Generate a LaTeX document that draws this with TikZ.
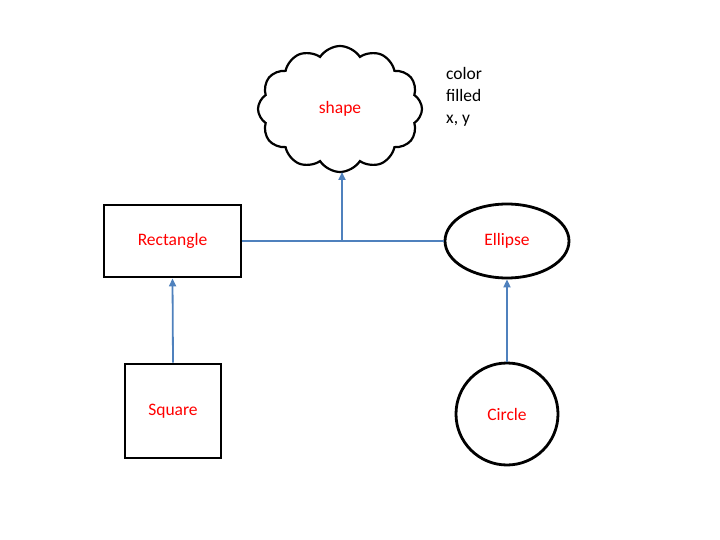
\documentclass[tikz,border=0pt]{standalone}
\usepackage{fontspec}
\setmainfont{Carlito}
\usetikzlibrary{shapes.geometric,shapes.symbols,arrows.meta}
\definecolor{arrowblue}{HTML}{4F81BD}
\tikzset{
  box/.style={draw=black,line width=2.8pt,fill=white,font=\fontsize{17.5}{20}\selectfont,text=red,inner sep=0pt},
  link/.style={draw=arrowblue,line width=1.8pt},
  arr/.style={link,-{Triangle[length=8pt,width=7pt]}},
}
\begin{document}
\begin{tikzpicture}[x=1pt,y=-1pt]
\useasboundingbox (0,0) rectangle (720,540);
\node[box,rectangle,minimum width=137pt,minimum height=72pt] (rect) at (172.5,241) {Rectangle};
\node[box,ellipse,minimum width=124pt,minimum height=74pt] (ell) at (507,241) {Ellipse};
\node[box,rectangle,minimum width=96pt,minimum height=94pt] (sq) at (173,411) {Square};
\node[box,circle,minimum size=102pt] (circ) at (507,414) {Circle};
\node[box,cloud,cloud puffs=12,cloud puff arc=115,aspect=1.3,minimum width=164pt,minimum height=126pt,line width=2.2pt] (cloud) at (340,109) {shape};
\node[anchor=north west,align=left,font=\fontsize{17.5}{22}\selectfont,inner sep=0pt] (attrs) at (446,67) {color\\filled\\x, y};
\coordinate (mid) at (342,241);
\coordinate (cloudbot) at (342,172);
\draw[link] (rect.east) -- (ell.west);
\draw[arr] (mid) -- (cloudbot);
\draw[arr] (sq.north) -- (rect.south);
\draw[arr] (circ.north) -- (ell.south);
\end{tikzpicture}
\end{document}
